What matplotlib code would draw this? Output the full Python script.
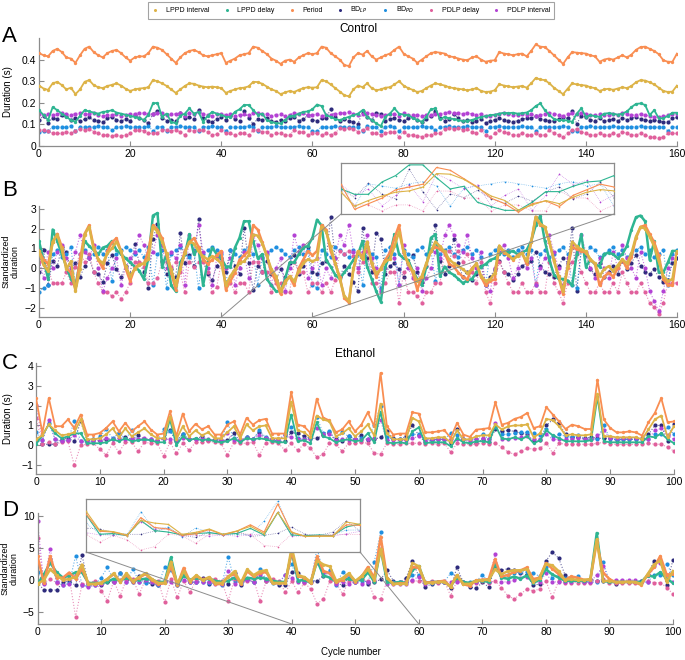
import numpy as np
import matplotlib
matplotlib.use('Agg')
import matplotlib.pyplot as plt
from matplotlib.lines import Line2D
from matplotlib.patches import ConnectionPatch

plt.rcParams['font.family'] = ['Liberation Sans', 'DejaVu Sans']

# ---- Control (durations in s), one value per cycle ----
period = [0.430, 0.420, 0.415, 0.440, 0.450, 0.435, 0.410, 0.405, 0.385, 0.420,
          0.450, 0.460, 0.435, 0.420, 0.410, 0.430, 0.440, 0.445, 0.430, 0.410,
          0.395, 0.410, 0.415, 0.415, 0.430, 0.460, 0.455, 0.445, 0.425, 0.405,
          0.385, 0.410, 0.430, 0.440, 0.445, 0.435, 0.420, 0.415, 0.420, 0.425,
          0.430, 0.385, 0.395, 0.405, 0.420, 0.425, 0.430, 0.460, 0.455, 0.440,
          0.425, 0.405, 0.395, 0.380, 0.395, 0.400, 0.390, 0.410, 0.420, 0.430,
          0.425, 0.430, 0.460, 0.455, 0.430, 0.415, 0.400, 0.375, 0.370, 0.410,
          0.430, 0.423, 0.440, 0.415, 0.400, 0.410, 0.420, 0.428, 0.445, 0.460,
          0.428, 0.415, 0.405, 0.385, 0.400, 0.415, 0.430, 0.435, 0.432, 0.428,
          0.415, 0.412, 0.405, 0.400, 0.397, 0.410, 0.415, 0.400, 0.390, 0.395,
          0.397, 0.435, 0.428, 0.425, 0.420, 0.425, 0.428, 0.415, 0.440, 0.470,
          0.460, 0.458, 0.440, 0.420, 0.400, 0.380, 0.410, 0.435, 0.432, 0.430,
          0.428, 0.420, 0.415, 0.390, 0.400, 0.405, 0.400, 0.410, 0.420, 0.410,
          0.423, 0.445, 0.458, 0.460, 0.450, 0.440, 0.425, 0.397, 0.390, 0.390,
          0.428]
lppd_int = [0.280, 0.266, 0.260, 0.290, 0.297, 0.282, 0.262, 0.270, 0.240, 0.262,
            0.297, 0.305, 0.282, 0.272, 0.268, 0.278, 0.283, 0.290, 0.280, 0.265,
            0.255, 0.262, 0.266, 0.268, 0.272, 0.305, 0.300, 0.290, 0.278, 0.262,
            0.246, 0.262, 0.278, 0.290, 0.288, 0.280, 0.275, 0.272, 0.275, 0.272,
            0.268, 0.246, 0.255, 0.262, 0.268, 0.270, 0.276, 0.297, 0.296, 0.288,
            0.275, 0.262, 0.255, 0.240, 0.248, 0.255, 0.250, 0.260, 0.268, 0.272,
            0.270, 0.272, 0.305, 0.300, 0.285, 0.268, 0.252, 0.235, 0.230, 0.262,
            0.280, 0.272, 0.290, 0.268, 0.258, 0.262, 0.270, 0.272, 0.285, 0.300,
            0.280, 0.268, 0.260, 0.250, 0.255, 0.268, 0.280, 0.290, 0.285, 0.280,
            0.272, 0.268, 0.265, 0.262, 0.258, 0.262, 0.268, 0.255, 0.250, 0.252,
            0.258, 0.286, 0.280, 0.276, 0.272, 0.275, 0.278, 0.270, 0.290, 0.315,
            0.308, 0.305, 0.290, 0.270, 0.255, 0.240, 0.265, 0.290, 0.285, 0.282,
            0.280, 0.272, 0.268, 0.255, 0.262, 0.265, 0.260, 0.266, 0.272, 0.268,
            0.278, 0.295, 0.305, 0.303, 0.295, 0.285, 0.270, 0.255, 0.250, 0.252,
            0.280]
lppd_delay = [0.166, 0.143, 0.120, 0.180, 0.166, 0.150, 0.135, 0.120, 0.112, 0.140,
              0.166, 0.160, 0.155, 0.150, 0.158, 0.160, 0.166, 0.155, 0.150, 0.145,
              0.140, 0.135, 0.130, 0.120, 0.145, 0.197, 0.200, 0.135, 0.150, 0.112,
              0.105, 0.140, 0.150, 0.174, 0.150, 0.158, 0.112, 0.140, 0.158, 0.150,
              0.145, 0.135, 0.135, 0.158, 0.170, 0.190, 0.190, 0.166, 0.145, 0.150,
              0.120, 0.112, 0.105, 0.105, 0.120, 0.140, 0.140, 0.150, 0.158, 0.160,
              0.170, 0.192, 0.185, 0.143, 0.135, 0.125, 0.120, 0.128, 0.135, 0.143,
              0.150, 0.166, 0.135, 0.120, 0.105, 0.092, 0.135, 0.150, 0.174, 0.150,
              0.145, 0.143, 0.130, 0.120, 0.112, 0.135, 0.170, 0.174, 0.123, 0.135,
              0.128, 0.125, 0.120, 0.115, 0.118, 0.120, 0.128, 0.135, 0.138, 0.143,
              0.145, 0.150, 0.154, 0.152, 0.154, 0.150, 0.152, 0.155, 0.166, 0.185,
              0.197, 0.166, 0.143, 0.125, 0.120, 0.120, 0.118, 0.112, 0.150, 0.174,
              0.135, 0.143, 0.138, 0.135, 0.150, 0.152, 0.150, 0.145, 0.150, 0.160,
              0.180, 0.195, 0.197, 0.190, 0.143, 0.166, 0.128, 0.128, 0.140, 0.154,
              0.154]
bd_lp = [0.120, 0.140, 0.108, 0.130, 0.125, 0.142, 0.138, 0.120, 0.128, 0.115,
         0.125, 0.132, 0.120, 0.118, 0.110, 0.128, 0.135, 0.122, 0.115, 0.125,
         0.118, 0.145, 0.128, 0.120, 0.105, 0.150, 0.163, 0.130, 0.118, 0.122,
         0.115, 0.155, 0.128, 0.135, 0.125, 0.168, 0.130, 0.118, 0.112, 0.125,
         0.132, 0.120, 0.140, 0.125, 0.118, 0.160, 0.128, 0.103, 0.125, 0.120,
         0.130, 0.118, 0.112, 0.122, 0.115, 0.128, 0.135, 0.118, 0.125, 0.142,
         0.120, 0.118, 0.128, 0.130, 0.170, 0.132, 0.115, 0.125, 0.118, 0.110,
         0.102, 0.160, 0.132, 0.120, 0.155, 0.150, 0.118, 0.125, 0.128, 0.122,
         0.115, 0.128, 0.135, 0.120, 0.110, 0.125, 0.140, 0.162, 0.130, 0.118,
         0.125, 0.150, 0.128, 0.115, 0.120, 0.112, 0.118, 0.125, 0.108, 0.115,
         0.122, 0.130, 0.120, 0.118, 0.112, 0.118, 0.125, 0.128, 0.130, 0.138,
         0.125, 0.120, 0.118, 0.115, 0.125, 0.132, 0.128, 0.160, 0.102, 0.140,
         0.135, 0.122, 0.118, 0.128, 0.115, 0.120, 0.125, 0.118, 0.130, 0.122,
         0.128, 0.135, 0.125, 0.120, 0.118, 0.122, 0.115, 0.110, 0.112, 0.128,
         0.132]
bd_pd = [0.066, 0.068, 0.070, 0.088, 0.090, 0.086, 0.088, 0.092, 0.070, 0.088,
         0.090, 0.086, 0.088, 0.092, 0.088, 0.090, 0.072, 0.088, 0.090, 0.092,
         0.090, 0.088, 0.090, 0.086, 0.092, 0.070, 0.088, 0.090, 0.068, 0.088,
         0.090, 0.092, 0.088, 0.086, 0.090, 0.068, 0.088, 0.090, 0.092, 0.090,
         0.088, 0.070, 0.090, 0.088, 0.086, 0.090, 0.092, 0.088, 0.070, 0.086,
         0.088, 0.090, 0.092, 0.090, 0.088, 0.086, 0.090, 0.092, 0.088, 0.090,
         0.070, 0.068, 0.090, 0.088, 0.086, 0.092, 0.090, 0.088, 0.086, 0.090,
         0.088, 0.070, 0.092, 0.088, 0.086, 0.068, 0.090, 0.092, 0.088, 0.070,
         0.090, 0.088, 0.086, 0.090, 0.092, 0.088, 0.090, 0.072, 0.088, 0.090,
         0.092, 0.088, 0.086, 0.090, 0.092, 0.088, 0.090, 0.086, 0.070, 0.088,
         0.090, 0.092, 0.088, 0.090, 0.086, 0.090, 0.092, 0.088, 0.090, 0.070,
         0.088, 0.090, 0.086, 0.088, 0.090, 0.092, 0.088, 0.070, 0.068, 0.090,
         0.088, 0.092, 0.090, 0.086, 0.088, 0.090, 0.092, 0.088, 0.090, 0.086,
         0.088, 0.090, 0.092, 0.088, 0.090, 0.086, 0.088, 0.090, 0.070, 0.088,
         0.090]
pdlp_delay = [0.074, 0.074, 0.069, 0.058, 0.058, 0.058, 0.066, 0.058, 0.070, 0.080,
              0.074, 0.080, 0.066, 0.058, 0.051, 0.051, 0.048, 0.051, 0.046, 0.051,
              0.058, 0.074, 0.074, 0.070, 0.058, 0.058, 0.062, 0.074, 0.074, 0.070,
              0.074, 0.066, 0.051, 0.074, 0.070, 0.074, 0.074, 0.066, 0.051, 0.055,
              0.074, 0.058, 0.058, 0.051, 0.058, 0.058, 0.051, 0.074, 0.074, 0.066,
              0.066, 0.051, 0.058, 0.058, 0.051, 0.051, 0.074, 0.066, 0.066, 0.051,
              0.058, 0.058, 0.051, 0.058, 0.051, 0.060, 0.082, 0.080, 0.082, 0.078,
              0.066, 0.074, 0.082, 0.058, 0.058, 0.051, 0.058, 0.066, 0.066, 0.043,
              0.066, 0.051, 0.051, 0.048, 0.043, 0.051, 0.051, 0.058, 0.058, 0.080,
              0.082, 0.078, 0.082, 0.074, 0.080, 0.066, 0.058, 0.074, 0.051, 0.043,
              0.058, 0.074, 0.066, 0.058, 0.051, 0.051, 0.058, 0.051, 0.051, 0.058,
              0.051, 0.051, 0.074, 0.058, 0.051, 0.043, 0.058, 0.074, 0.080, 0.066,
              0.058, 0.051, 0.051, 0.058, 0.051, 0.051, 0.058, 0.051, 0.066, 0.058,
              0.051, 0.051, 0.058, 0.051, 0.043, 0.040, 0.035, 0.043, 0.058, 0.058,
              0.058]
pdlp_int = [0.148, 0.142, 0.150, 0.145, 0.150, 0.152, 0.148, 0.145, 0.150, 0.155,
            0.150, 0.148, 0.152, 0.145, 0.138, 0.142, 0.145, 0.148, 0.140, 0.145,
            0.148, 0.150, 0.155, 0.152, 0.148, 0.150, 0.155, 0.152, 0.145, 0.150,
            0.148, 0.152, 0.140, 0.155, 0.150, 0.158, 0.150, 0.145, 0.140, 0.148,
            0.150, 0.145, 0.148, 0.140, 0.145, 0.150, 0.142, 0.155, 0.152, 0.148,
            0.150, 0.140, 0.145, 0.148, 0.138, 0.145, 0.155, 0.150, 0.152, 0.142,
            0.145, 0.148, 0.140, 0.145, 0.142, 0.148, 0.155, 0.152, 0.158, 0.150,
            0.145, 0.150, 0.155, 0.148, 0.145, 0.138, 0.145, 0.150, 0.148, 0.140,
            0.152, 0.145, 0.142, 0.145, 0.138, 0.142, 0.145, 0.150, 0.148, 0.155,
            0.158, 0.155, 0.152, 0.150, 0.155, 0.148, 0.145, 0.150, 0.140, 0.138,
            0.145, 0.150, 0.152, 0.148, 0.142, 0.145, 0.150, 0.145, 0.148, 0.140,
            0.145, 0.148, 0.155, 0.150, 0.145, 0.140, 0.148, 0.152, 0.150, 0.155,
            0.150, 0.145, 0.142, 0.148, 0.145, 0.142, 0.150, 0.145, 0.152, 0.148,
            0.145, 0.142, 0.150, 0.145, 0.138, 0.135, 0.132, 0.138, 0.145, 0.148,
            0.150]

# ---- Ethanol (durations in s) ----
period_e = [2.38, 0.62, 2.38, 0.96, 0.96, 1.30, 0.87, 1.55, 0.54, 0.54,
            0.62, 0.87, 1.20, 0.70, 1.13, 0.70, 0.96, 1.20, 0.79, 0.54,
            0.59, 1.71, 0.45, 1.60, 0.70, 1.08, 0.80, 0.96, 0.54, 0.54,
            1.04, 1.20, 0.54, 1.38, 1.04, 1.26, 1.33, 0.59, 0.59, 0.59,
            2.69, 1.04, 0.96, 0.62, 2.35, 1.40, 1.25, 0.65, 0.80, 1.20,
            0.70, 1.04, 1.66, 0.96, 3.65, 0.96, 0.54, 0.59, 0.59, 1.66,
            1.60, 0.65, 0.65, 0.70, 0.76, 0.37, 1.13, 0.54, 0.42, 0.79,
            0.82, 0.87, 2.17, 1.04, 1.13, 1.33, 1.43, 1.63, 0.87, 0.96,
            1.92, 1.55, 1.20, 0.82, 1.04, 0.96, 0.82, 0.82, 3.31, 1.30,
            0.87, 0.65, 0.65, 0.70, 0.65, 0.49, 1.16, 1.63, 2.38, 1.16,
            1.20]
lppd_int_e = [0.30, 0.50, 1.05, 0.75, 0.50, 0.55, 0.65, 1.30, 0.30, 0.30,
              0.35, 0.55, 0.85, 0.40, 0.85, 0.45, 0.65, 0.85, 0.55, 0.35,
              0.35, 1.45, 0.30, 0.95, 0.45, 0.75, 0.50, 0.65, 0.35, 0.35,
              0.65, 0.95, 0.35, 1.05, 0.75, 0.95, 1.00, 0.35, 0.35, 0.35,
              2.20, 0.75, 0.65, 0.40, 1.50, 1.30, 1.20, 0.45, 0.60, 0.85,
              0.45, 0.70, 1.05, 0.50, 2.10, 0.60, 0.30, 0.30, 0.30, 1.38,
              1.20, 0.35, 0.35, 0.40, 0.40, 0.15, 0.75, 0.30, 0.30, 0.45,
              0.50, 0.50, 1.05, 0.80, 0.95, 1.00, 1.00, 1.05, 0.40, 0.60,
              1.33, 1.26, 0.96, 0.50, 0.55, 0.50, 0.50, 0.55, 2.60, 0.45,
              0.45, 0.40, 0.40, 0.40, 0.40, 0.30, 0.80, 1.30, 1.50, 0.40,
              0.96]
lppd_delay_e = [0.05, 0.50, 1.05, 0.60, 0.35, 0.45, 0.60, 0.60, 0.10, 0.10,
                0.10, 0.15, 0.30, 0.20, 0.35, 0.20, 0.25, 0.30, 0.25, 0.15,
                0.15, 1.30, 0.00, 0.45, 0.25, 0.35, 0.25, 0.30, 0.20, 0.15,
                0.20, 0.35, 0.15, 0.35, 0.30, 0.35, 0.30, 0.20, 0.15, 0.15,
                1.55, 0.20, 0.25, 0.10, 1.15, 0.45, 0.35, 0.15, 0.25, 0.30,
                0.20, 0.25, 0.60, 0.15, 1.70, 0.15, 0.10, 0.15, 0.10, 0.70,
                0.90, 0.10, 0.15, 0.15, 0.15, -0.05, 0.35, 0.15, 0.10, 0.20,
                0.20, 0.15, 1.00, 0.35, 0.30, 0.40, 0.30, 0.45, 0.10, 0.25,
                0.75, 0.50, 0.35, 0.20, 0.20, 0.20, 0.20, 0.25, 2.45, 0.20,
                0.15, 0.15, 0.15, 0.15, 0.15, 0.15, 0.45, 0.40, 0.60, 0.30,
                0.10]
bd_lp_e = [0.30, 0.05, 0.05, 0.05, 0.30, 0.35, 0.20, 1.20, 0.25, 0.30,
           0.20, 0.30, 0.30, 0.60, 0.40, 0.30, 0.50, 0.30, 0.25, 0.20,
           0.35, 0.75, 0.20, 0.55, 0.30, 0.30, 0.45, 0.25, 0.30, 0.25,
           0.25, 0.60, 0.20, 0.40, 0.30, 0.65, 0.35, 0.30, 0.20, 0.20,
           0.65, 0.60, 0.45, 0.35, 0.35, 0.50, 0.65, 0.30, 0.20, 0.45,
           0.30, 0.50, 0.25, 0.30, 0.40, 0.70, 0.35, 0.30, 0.45, 1.00,
           0.50, 0.15, 0.25, 0.30, 0.30, 0.10, 0.80, 0.30, 0.15, 0.10,
           0.30, 0.15, 0.80, 0.70, 0.75, 0.70, 0.60, 0.55, 0.20, 0.25,
           1.00, 1.30, 1.10, 0.55, 0.40, 0.40, 0.35, 0.40, 0.35, 0.35,
           0.35, 0.25, 0.30, 0.30, 0.30, 0.35, 0.55, 1.00, 1.00, 0.20,
           1.05]
bd_pd_e = [0.65, 0.25, 1.10, 0.30, 0.20, 0.25, 1.20, 0.20, 0.15, 0.20,
           0.45, 0.80, 0.35, 0.60, 0.30, 0.75, 0.30, 0.25, 0.30, 0.20,
           0.80, 0.70, 0.25, 0.55, 0.30, 0.30, 0.30, 0.25, 0.25, 0.20,
           1.15, 0.35, 0.25, 0.40, 0.30, 0.75, 0.40, 0.25, 0.25, 0.55,
           0.90, 0.35, 0.30, 0.35, 1.45, 0.60, 0.70, 0.20, 0.65, 0.45,
           0.30, 0.35, 0.30, 1.00, 2.00, 0.40, 0.30, 0.30, 0.30, 0.55,
           0.55, 0.30, 0.25, 0.30, 0.30, 0.60, 0.50, 0.30, 0.30, 0.30,
           0.55, 0.30, 0.90, 0.55, 0.55, 0.60, 0.65, 0.65, 0.60, 0.50,
           0.80, 0.45, 0.55, 0.45, 0.40, 0.50, 0.30, 0.30, 0.30, 1.00,
           0.30, 0.30, 0.30, 0.30, 0.30, 0.30, 0.30, 0.55, 0.55, 0.90,
           0.55]
pdlp_delay_e = [1.40, 0.05, 0.15, 0.05, 0.15, 0.20, -1.00, 0.00, 0.05, 0.10,
                -0.20, -0.50, 0.10, -0.35, 0.15, 0.15, -0.30, 0.15, 0.10, 0.10,
                -0.55, 0.15, -0.40, 0.10, -0.25, 0.15, 0.15, 0.20, 0.15, 0.10,
                -0.50, 0.15, 0.10, 0.10, 0.15, -0.50, 0.10, 0.15, 0.10, -0.25,
                0.10, -0.25, 0.05, -0.15, -0.60, -0.45, 0.10, 0.05, -0.30, 0.10,
                0.10, 0.15, 0.10, -0.40, -0.45, 0.10, 0.05, 0.05, 0.10, 0.10,
                0.10, 0.05, 0.10, 0.05, 0.10, -0.35, 0.10, 0.05, 0.05, 0.05,
                0.10, 0.05, 0.10, -0.10, -0.35, -0.45, -0.30, -0.15, -0.20, -0.15,
                0.10, -0.40, 0.10, 0.05, 0.05, 0.05, 0.05, 0.05, 0.10, 0.15,
                0.05, 0.05, 0.05, 0.05, 0.05, 0.05, 0.10, 0.05, 0.05, -0.10,
                -0.30]
pdlp_int_e = [2.05, 0.25, 1.25, 0.30, 0.20, 0.25, 0.50, 0.20, 0.15, 0.20,
              0.25, 0.35, 0.30, 0.35, 0.30, 0.35, 0.30, 0.35, 0.30, 0.25,
              0.30, 0.30, 0.25, 0.35, 0.30, 0.30, 0.30, 0.30, 0.25, 0.25,
              0.60, 0.25, 0.30, 0.35, 0.30, 0.50, 0.35, 0.30, 0.30, 0.50,
              0.40, 0.30, 0.30, 0.30, 0.85, 0.55, 0.55, 0.25, 0.30, 0.25,
              0.30, 0.25, 0.30, 0.35, 1.25, 0.25, 0.25, 0.25, 0.25, 0.35,
              0.45, 0.25, 0.30, 0.30, 0.30, 0.30, 0.30, 0.30, 0.25, 0.30,
              0.35, 0.30, 1.10, 0.30, 0.30, 0.35, 0.40, 0.45, 0.30, 0.30,
              0.55, 0.30, 0.30, 0.30, 0.30, 0.35, 0.30, 0.30, 0.50, 0.75,
              0.35, 0.35, 0.35, 0.35, 0.35, 0.30, 0.30, 0.75, 0.85, 0.50,
              0.30]

names = ['LPPD interval', 'LPPD delay', 'Period', 'BD$_{LP}$', 'BD$_{PD}$',
         'PDLP delay', 'PDLP interval']
colors = ['#DDB347', '#2EB592', '#F98E52', '#2E2B7C', '#1F8FE0', '#E0609C', '#B342D4']
ctrl = [lppd_int, lppd_delay, period, bd_lp, bd_pd, pdlp_delay, pdlp_int]
etoh = [lppd_int_e, lppd_delay_e, period_e, bd_lp_e, bd_pd_e, pdlp_delay_e, pdlp_int_e]

ctrl_mean = [0.263, 0.133, 0.410, 0.123, 0.0796, 0.069, 0.145]
ctrl_sd = [0.020, 0.024, 0.023, 0.018, 0.0115, 0.0148, 0.006]
etoh_mean = [0.50, 0.24, 0.81, 0.38, 0.37, 0.13, 0.355]
etoh_sd = [0.33, 0.30, 0.418, 0.21, 0.218, 0.195, 0.182]

solid = [True, True, True, False, False, False, False]
order = [3, 4, 5, 6, 1, 2, 0]   # dotted series underneath, thick ones on top

xt_ctrl = [0, 20, 40, 60, 80, 100, 120, 140]
xt_ctrl_lab = ['0', '20', '40', '60', '80', '120', '140', '160']

GRAY = '#8c8c8c'

std_ctrl = [(np.asarray(v) - m) / s for v, m, s in zip(ctrl, ctrl_mean, ctrl_sd)]
std_etoh = [(np.asarray(v) - m) / s for v, m, s in zip(etoh, etoh_mean, etoh_sd)]


def draw(ax, series, lw_solid=1.3, ms=2.4, thin=False):
    for i in order:
        y = series[i]
        x = np.arange(len(y))
        if solid[i]:
            ax.plot(x, y, '-', color=colors[i], lw=0.8 if thin else lw_solid,
                    marker='o', ms=1.2 if thin else ms, mew=0, zorder=3)
        else:
            ax.plot(x, y, ':', color=colors[i], lw=0.5 if thin else 0.8, alpha=0.7,
                    zorder=2)
            ax.plot(x, y, 'o', color=colors[i], ms=1.2 if thin else ms + 0.6,
                    mew=0, zorder=2)


def style(ax):
    for s in ['top', 'right']:
        ax.spines[s].set_visible(False)
    for s in ['left', 'bottom']:
        ax.spines[s].set_color(GRAY)
        ax.spines[s].set_linewidth(0.9)
    ax.tick_params(direction='in', length=3.5, width=0.8, color=GRAY,
                   labelsize=7.5, pad=2)


def inset_range(series, lo, hi):
    vals = np.concatenate([np.asarray(v)[lo:hi + 1] for v in series])
    pad = 0.04 * (vals.max() - vals.min())
    return vals.min() - pad, vals.max() + pad


fig = plt.figure(figsize=(6.85, 6.6), dpi=100)
W, H = 685.0, 660.0


def axpx(l, r, t, b):
    return fig.add_axes([l / W, 1 - b / H, (r - l) / W, (b - t) / H])


def zoom_box(ax, l, r, t, b, series, ybot):
    ins = axpx(l, r, t, b)
    draw(ins, series, thin=True)
    ins.set_xlim(40, 60)
    ins.set_ylim(*inset_range(series, 40, 60))
    ins.set_xticks([])
    ins.set_yticks([])
    for s in ins.spines.values():
        s.set_color(GRAY)
        s.set_linewidth(0.9)
    for xa, xb in [(40, 0), (60, 1)]:
        fig.add_artist(ConnectionPatch((xa, ybot), (xb, 0), coordsA='data',
                                       coordsB='axes fraction', axesA=ax, axesB=ins,
                                       color=GRAY, lw=0.7))


# Panel A
axA = axpx(39, 677, 38, 146)
draw(axA, ctrl)
axA.set_xlim(0, 140)
axA.set_ylim(0, 0.5)
axA.set_yticks([0, 0.1, 0.2, 0.3, 0.4])
axA.set_yticklabels(['0', '0.1', '0.2', '0.3', '0.4'])
axA.set_xticks(xt_ctrl)
axA.set_xticklabels(xt_ctrl_lab)
axA.set_ylabel('Duration (s)', fontsize=7)
axA.yaxis.set_label_coords(-0.04, 0.5)
style(axA)
axA.set_title('Control', fontsize=8.5, pad=4)

# Panel B
axB = axpx(39, 677, 206, 317)
draw(axB, std_ctrl, lw_solid=1.8)
axB.set_xlim(0, 140)
axB.set_ylim(-2.47, 3.15)
axB.set_yticks([-2, -1, 0, 1, 2, 3])
axB.set_xticks(xt_ctrl)
axB.set_xticklabels(xt_ctrl_lab)
axB.set_ylabel('Standardized\nduration', fontsize=6.5, linespacing=1.0)
axB.yaxis.set_label_coords(-0.030, 0.5)
style(axB)
zoom_box(axB, 341, 614, 163, 214, std_ctrl, -2.47)

# Panel C
axC = axpx(36, 674, 363, 474)
draw(axC, etoh)
axC.set_xlim(0, 100)
axC.set_ylim(-1.45, 4.15)
axC.set_yticks([-1, 0, 1, 2, 3, 4])
axC.set_xticks(range(0, 101, 10))
axC.set_ylabel('Duration (s)', fontsize=7)
axC.yaxis.set_label_coords(-0.036, 0.5)
style(axC)
axC.set_title('Ethanol', fontsize=8.5, pad=4)

# Panel D
axD = axpx(37.5, 673, 513, 624)
draw(axD, std_etoh, lw_solid=1.8)
axD.set_xlim(0, 100)
axD.set_ylim(-6.9, 10.5)
axD.set_yticks([-5, 0, 5, 10])
axD.set_xticks(range(0, 101, 10))
axD.set_ylabel('Standardized\nduration', fontsize=6.5, linespacing=1.0)
axD.yaxis.set_label_coords(-0.030, 0.5)
style(axD)
zoom_box(axD, 86, 360, 499, 552, std_etoh, -6.9)

fig.text(351 / W, 1 - 652 / H, 'Cycle number', fontsize=7, ha='center', va='center')

for lab, yc in [('A', 37), ('B', 190), ('C', 363), ('D', 511)]:
    fig.text(2 / W, 1 - yc / H, lab, fontsize=16, ha='left', va='center')

handles = [Line2D([], [], ls='none', marker='o', ms=2.2, mew=0, color=c) for c in colors]
leg = fig.legend(handles, names, loc='upper center', bbox_to_anchor=(351 / W, 1 - 1.5 / H),
                 ncol=7, fontsize=5, frameon=True, fancybox=False, edgecolor=GRAY,
                 handlelength=1.0, handletextpad=1.0, columnspacing=2.0,
                 borderpad=0.5, borderaxespad=0)
leg.get_frame().set_linewidth(0.8)

fig.savefig('out.png', dpi=100)
